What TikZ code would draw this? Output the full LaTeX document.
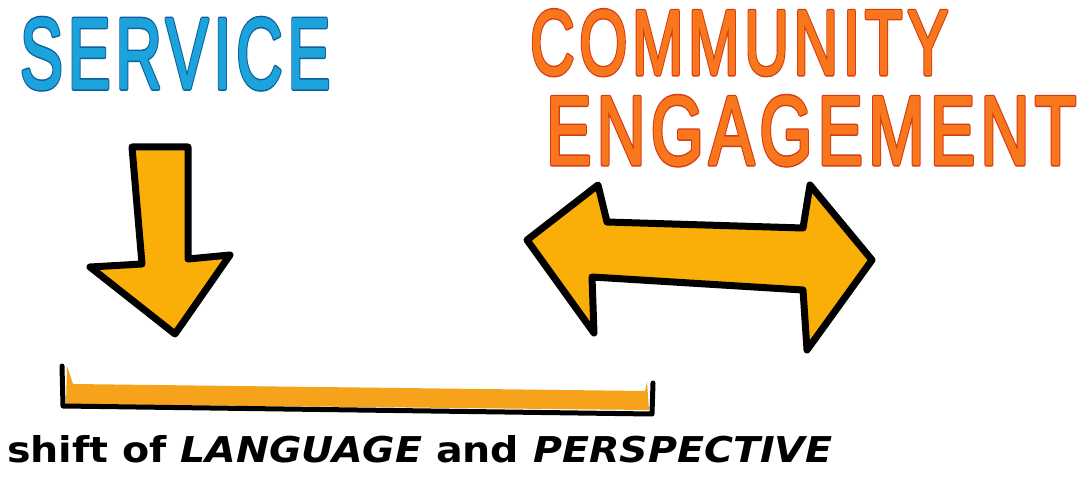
\documentclass[tikz,border=0pt]{standalone}
\usepackage{fontspec}
\usepackage{graphicx}
\setmainfont{Liberation Sans}
\newfontfamily\handfont{DejaVu Sans}
\newfontface\inkfont{Liberation Sans}[LetterSpace=8,RawFeature={embolden=2}]
\newfontface\inkline{Liberation Sans}[LetterSpace=8,RawFeature={embolden=5}]

\definecolor{serviceblue}{HTML}{1DA3DC}
\definecolor{serviceedge}{HTML}{0C5F9C}
\definecolor{commorange}{HTML}{F8761C}
\definecolor{commedge}{HTML}{D63A12}
\definecolor{arrowfill}{HTML}{F9AE08}
\definecolor{bracketfill}{HTML}{F6A31B}

% marker lettering: dark edge under a lighter fill
\newcommand\marker[5]{\makebox[0pt][l]{\color{#2}\resizebox{#3}{#4}{\inkline #5}}%
  \color{#1}\resizebox{#3}{#4}{\inkfont #5}}

\begin{document}
\begin{tikzpicture}[x=1pt,y=-1pt,line join=round,
  blockarrow/.style={fill=arrowfill,draw=black,line width=7pt}]
\fill[white] (0,0) rectangle (1090,484);
\useasboundingbox (0,0) rectangle (1090,484);
% headings
\node[anchor=north west,inner sep=0] (service) at (20,18) {\marker{serviceblue}{serviceedge}{310pt}{70pt}{SERVICE}};
\node[anchor=north west,inner sep=0] (community) at (530,10) {\marker{commorange}{commedge}{418pt}{64pt}{COMMUNITY}};
\node[anchor=north west,inner sep=0] (engagement) at (546,96) {\marker{commorange}{commedge}{530pt}{68pt}{ENGAGEMENT}};
% arrows
\draw[blockarrow] (132,147) -- (188,147) -- (188,259) -- (230,255) -- (175,334) -- (90,267) -- (142,264) -- cycle;
\draw[blockarrow] (527,240) -- (598,185) -- (607,222) -- (803,228) -- (810,185) -- (872,260)
  -- (807,350) -- (803,290) -- (592,277) -- (594,333) -- cycle;
% bracket
\fill[bracketfill] (67,366) -- (73,384) -- (645,391) -- (647,382) -- (649,410) -- (66,404) -- cycle;
\draw[line width=5pt,line cap=round] (62,366) -- (63,406) -- (652,414) -- (653,383);
\node[anchor=north west,inner sep=0] (caption) at (7,435)
  {\resizebox{825pt}{27pt}{\handfont\bfseries shift of \textit{LANGUAGE} and \textit{PERSPECTIVE}}};
\end{tikzpicture}
\end{document}
